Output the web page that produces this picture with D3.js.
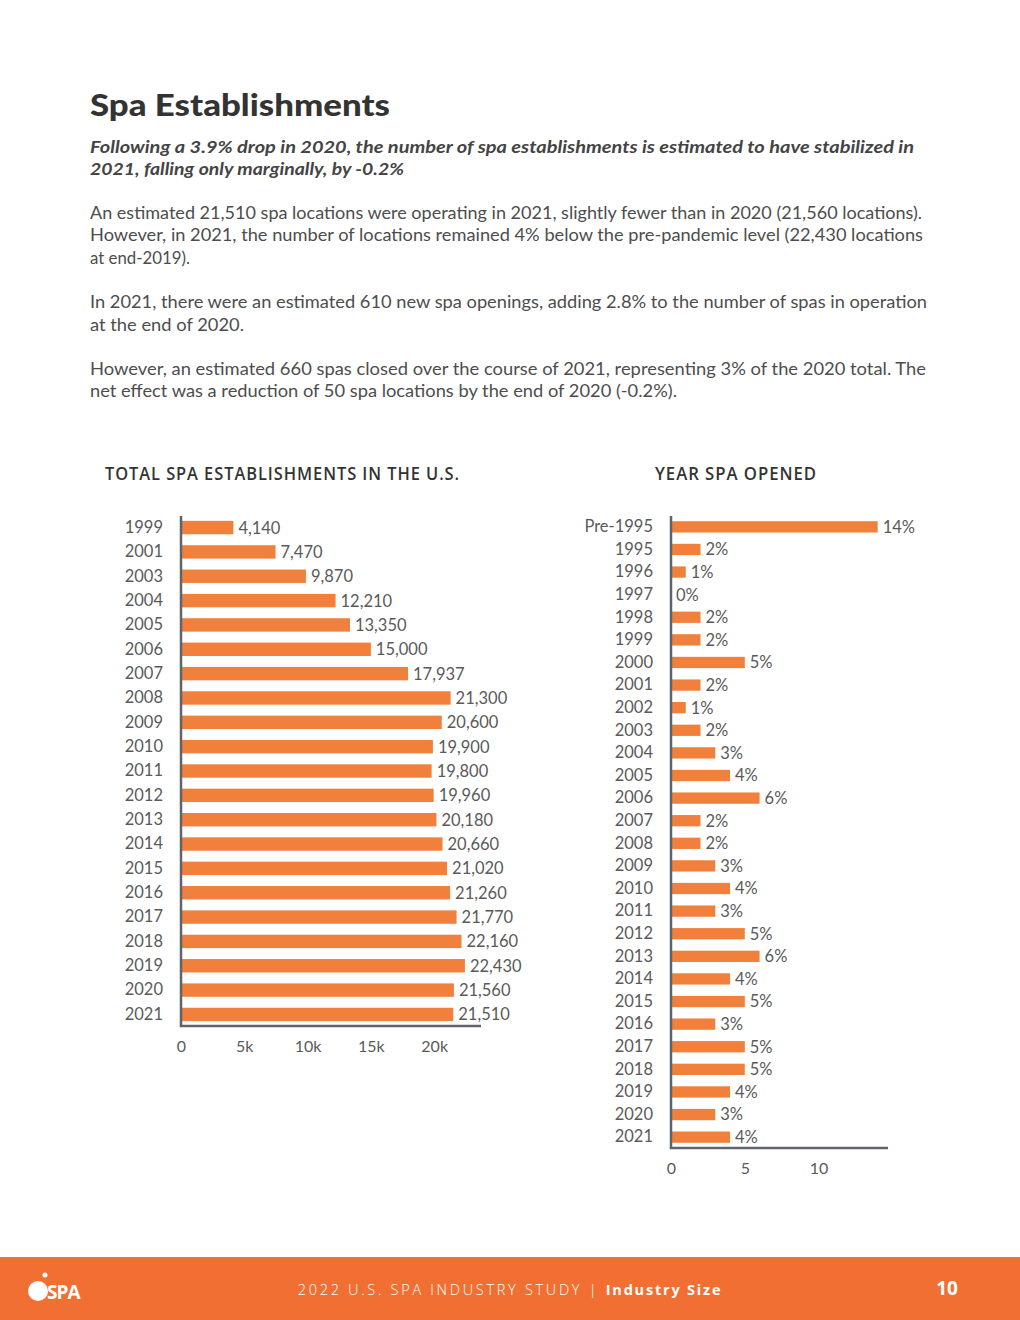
<!DOCTYPE html>
<html>
<head>
<meta charset="utf-8">
<script src="https://cdn.jsdelivr.net/npm/d3@7"></script>
<style>
  body { margin: 0; background: #fff; }
  svg { display: block; }
</style>
</head>
<body>
<svg id="page" width="1020" height="1320"></svg>
<script>
(function() {

    // total establishments chart
    var totalYears = ["1999", "2001", "2003", "2004", "2005", "2006", "2007", "2008", "2009", "2010",
        "2011", "2012", "2013", "2014", "2015", "2016", "2017", "2018", "2019", "2020", "2021"];
    var totalValues = [4140, 7470, 9870, 12210, 13350, 15000, 17937, 21300, 20600, 19900,
        19800, 19960, 20180, 20660, 21020, 21260, 21770, 22160, 22430, 21560, 21510];
    var totalTicks = [0, 5000, 10000, 15000, 20000];

    // year opened chart
    var openedYears = ["Pre-1995", "1995", "1996", "1997", "1998", "1999", "2000", "2001", "2002", "2003",
        "2004", "2005", "2006", "2007", "2008", "2009", "2010", "2011", "2012", "2013",
        "2014", "2015", "2016", "2017", "2018", "2019", "2020", "2021"];
    var openedValues = [14, 2, 1, 0, 2, 2, 5, 2, 1, 2,
        3, 4, 6, 2, 2, 3, 4, 3, 5, 6,
        4, 5, 3, 5, 5, 4, 3, 4];
    var openedTicks = [0, 5, 10];

    var bodyLines = [
        "An estimated 21,510 spa locations were operating in 2021, slightly fewer than in 2020 (21,560 locations).",
        "However, in 2021, the number of locations remained 4% below the pre-pandemic level (22,430 locations",
        "at end-2019).",
        "",
        "In 2021, there were an estimated 610 new spa openings, adding 2.8% to the number of spas in operation",
        "at the end of 2020.",
        "",
        "However, an estimated 660 spas closed over the course of 2021, representing 3% of the 2020 total. The",
        "net effect was a reduction of 50 spa locations by the end of 2020 (-0.2%)."
    ];
    // measured line widths in the reference layout
    var bodyWidths = [832, 833, 100, 0, 837, 154, 0, 836, 587];

    var orange = "#f0803c";
    var axisGrey = "#5f646b";
    var labelGrey = "#5a5a5a";

    var svg = d3.select("#page");

    // ---- header text
    svg.append("text")
        .attr("x", 90).attr("y", 116)
        .attr("font-family", "Lato, sans-serif")
        .attr("font-weight", 900)
        .attr("font-size", 31)
        .attr("fill", "#333")
        .attr("textLength", 300).attr("lengthAdjust", "spacingAndGlyphs")
        .text("Spa Establishments");

    var sub = svg.append("g")
        .attr("font-family", "Lato, sans-serif")
        .attr("font-weight", 700)
        .attr("font-style", "italic")
        .attr("font-size", 17)
        .attr("fill", "#444");
    sub.append("text").attr("x", 90).attr("y", 153)
        .attr("textLength", 824).attr("lengthAdjust", "spacingAndGlyphs")
        .text("Following a 3.9% drop in 2020, the number of spa establishments is estimated to have stabilized in");
    sub.append("text").attr("x", 90).attr("y", 175)
        .attr("textLength", 314).attr("lengthAdjust", "spacingAndGlyphs")
        .text("2021, falling only marginally, by -0.2%");

    var body = svg.append("g")
        .attr("font-family", "Lato, sans-serif")
        .attr("font-size", 18)
        .attr("fill", "#4d4d4d");
    bodyLines.forEach(function(line, i) {
        if (!line) return;
        body.append("text")
            .attr("x", 90)
            .attr("y", 219 + i * 22.3)
            .attr("textLength", bodyWidths[i])
            .attr("lengthAdjust", "spacingAndGlyphs")
            .text(line);
    });

    // ---- chart titles
    var titles = svg.append("g")
        .attr("font-family", "'Open Sans', sans-serif")
        .attr("font-weight", 600)
        .attr("font-size", 17.5)
        .attr("letter-spacing", 1)
        .attr("fill", "#333");
    titles.append("text").attr("x", 105).attr("y", 480)
        .attr("textLength", 355).attr("lengthAdjust", "spacingAndGlyphs")
        .text("TOTAL SPA ESTABLISHMENTS IN THE U.S.");
    titles.append("text").attr("x", 655).attr("y", 480)
        .attr("textLength", 162).attr("lengthAdjust", "spacingAndGlyphs")
        .text("YEAR SPA OPENED");

    function createBargraph(cats, vals, ticks, opts) {
        var data = cats.map(function(c, i) { return { cat: c, value: vals[i] }; });

        var y = d3.scaleBand()
            .domain(cats)
            .range([opts.top, opts.bottom])
            .paddingInner(opts.padInner)
            .paddingOuter(opts.padOuter);

        var x = d3.scaleLinear()
            .domain([0, opts.xMax])
            .range([opts.left, opts.right]);

        var g = svg.append("g");

        g.selectAll("rect")
            .data(data)
            .enter()
            .append("rect")
            .attr("x", x(0))
            .attr("y", function(d) { return y(d.cat); })
            .attr("width", function(d) { return x(d.value) - x(0); })
            .attr("height", y.bandwidth())
            .attr("fill", orange);

        g.selectAll(".val")
            .data(data)
            .enter()
            .append("text")
            .attr("class", "val")
            .attr("x", function(d) { return x(d.value) + 5; })
            .attr("y", function(d) { return y(d.cat) + y.bandwidth() / 2; })
            .attr("dy", "0.36em")
            .attr("font-family", "Lato, sans-serif")
            .attr("font-size", 16.5)
            .attr("fill", labelGrey)
            .text(function(d) { return opts.valFormat(d.value); });

        // left axis (categories)
        var yAxis = g.append("g")
            .attr("transform", "translate(" + opts.left + ",0)")
            .call(d3.axisLeft(y).tickSize(0).tickSizeOuter(0).tickPadding(18));
        yAxis.select(".domain")
            .attr("d", "M0," + opts.top + "V" + opts.bottom)
            .attr("stroke", axisGrey).attr("stroke-width", 2.5);
        yAxis.selectAll("text")
            .attr("font-family", "Lato, sans-serif")
            .attr("font-size", 16.5)
            .attr("fill", labelGrey);

        // bottom axis (values)
        var xAxis = g.append("g")
            .attr("transform", "translate(0," + opts.bottom + ")")
            .call(d3.axisBottom(x).tickValues(ticks).tickFormat(opts.tickFormat)
                .tickSize(0).tickSizeOuter(0).tickPadding(15));
        xAxis.select(".domain")
            .attr("d", "M" + (opts.left - 1.25) + ",0H" + opts.right)
            .attr("stroke", axisGrey).attr("stroke-width", 2.5);
        xAxis.selectAll("text")
            .attr("font-family", "Lato, sans-serif")
            .attr("font-size", 16)
            .attr("fill", labelGrey);
    }

    createBargraph(totalYears, totalValues, totalTicks, {
        top: 516, bottom: 1026, left: 181, right: 481, xMax: 23700,
        padInner: 0.45, padOuter: 0.2,
        valFormat: d3.format(","),
        tickFormat: function(d) { return d === 0 ? "0" : (d / 1000) + "k"; }
    });

    createBargraph(openedYears, openedValues, openedTicks, {
        top: 516, bottom: 1148, left: 671, right: 888, xMax: 14.7,
        padInner: 0.5, padOuter: 0.23,
        valFormat: function(d) { return d + "%"; },
        tickFormat: d3.format("d")
    });

    // ---- footer band
    svg.append("rect")
        .attr("x", 0).attr("y", 1257)
        .attr("width", 1020).attr("height", 63)
        .attr("fill", "#f26f33");

    var foot = svg.append("text")
        .attr("x", 510).attr("y", 1295)
        .attr("text-anchor", "middle")
        .attr("font-family", "'Open Sans', sans-serif")
        .attr("font-size", 14.5)
        .attr("fill", "#fff")
        .attr("letter-spacing", 2.7);
    foot.append("tspan").attr("font-weight", 300).text("2022 U.S. SPA INDUSTRY STUDY  |  ");
    foot.append("tspan").attr("font-weight", 700).attr("letter-spacing", 1.8).text("Industry Size");

    svg.append("text")
        .attr("x", 947).attr("y", 1295)
        .attr("text-anchor", "middle")
        .attr("font-family", "'Open Sans', sans-serif")
        .attr("font-weight", 700)
        .attr("font-size", 19)
        .attr("fill", "#fff")
        .text("10");

    // logo
    var logo = svg.append("g").attr("fill", "#fff");
    logo.append("circle").attr("cx", 38).attr("cy", 1291).attr("r", 10);
    logo.append("circle").attr("cx", 45).attr("cy", 1275).attr("r", 2.5);
    logo.append("text")
        .attr("x", 47).attr("y", 1299)
        .attr("font-family", "'Open Sans', sans-serif")
        .attr("font-weight", 700)
        .attr("font-size", 19)
        .attr("letter-spacing", -1)
        .text("SPA");

})();
</script>
</body>
</html>
